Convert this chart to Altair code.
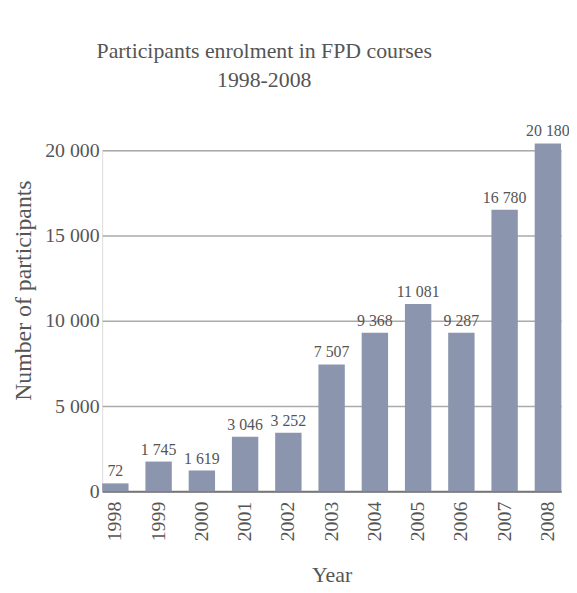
import altair as alt
import pandas as pd

years = ["1998", "1999", "2000", "2001", "2002", "2003", "2004", "2005", "2006", "2007", "2008"]
# bar heights as drawn in the picture
bar_values = [465, 1744, 1221, 3198, 3430, 7442, 9302, 10988, 9302, 16512, 20407]
# printed labels above the bars
label_values = [72, 1745, 1619, 3046, 3252, 7507, 9368, 11081, 9287, 16780, 20180]
y_ticks = [0, 5000, 10000, 15000, 20000]

df = pd.DataFrame({
    "Year": years,
    "Participants": bar_values,
    "Label": [f"{v:,}".replace(",", " ") for v in label_values],
})

FONT = "Liberation Serif"
TXT = "#555555"

x = alt.X("Year:N", sort=years,
          scale=alt.Scale(paddingInner=0.39, paddingOuter=0),
          axis=alt.Axis(title="Year", labelAngle=270, ticks=False, labelPadding=10,
                        labelFontSize=20, labelFont=FONT, labelColor=TXT,
                        domainColor="#777777", domainWidth=2,
                        titleFont=FONT, titleFontSize=22, titleFontWeight="normal",
                        titleColor=TXT, titleY=84, titleBaseline="middle"))
y = alt.Y("Participants:Q",
          scale=alt.Scale(domain=[0, 20000], nice=False),
          axis=alt.Axis(title="Number of participants", values=y_ticks, ticks=False,
                        domain=False, labelPadding=3, labelFontSize=20, labelFont=FONT,
                        labelColor=TXT,
                        labelExpr="replace(format(datum.value, ','), ',', ' ')",
                        gridColor="#aaaaaa", gridWidth=1.5,
                        titleFont=FONT, titleFontSize=24, titleFontWeight="normal",
                        titleColor=TXT, titleX=-79, titleY=141, titleAngle=270,
                        titleAlign="center", titleBaseline="middle"))

bars = alt.Chart(df).mark_bar(color="#8b96ae").encode(x=x, y=y)
labels = alt.Chart(df).mark_text(baseline="bottom", dy=-4, font=FONT, fontSize=16,
                                 color=TXT).encode(
    x=alt.X("Year:N", sort=years), y="Participants:Q", text="Label:N")

chart = alt.layer(bars, labels).properties(
    width=463, height=344,
    title=alt.Title(["Participants enrolment in FPD courses", "1998-2008"],
                    font=FONT, fontSize=22, fontWeight="normal", color=TXT,
                    anchor="middle", dx=-68, offset=32, lineHeight=29),
    autosize=alt.AutoSizeParams(type="none"),
    padding={"left": 95, "top": 141, "right": 8, "bottom": 100},
).configure_view(stroke=None).configure(background="white")

chart.save("out.html", embed_options={"renderer": "svg", "actions": False})
